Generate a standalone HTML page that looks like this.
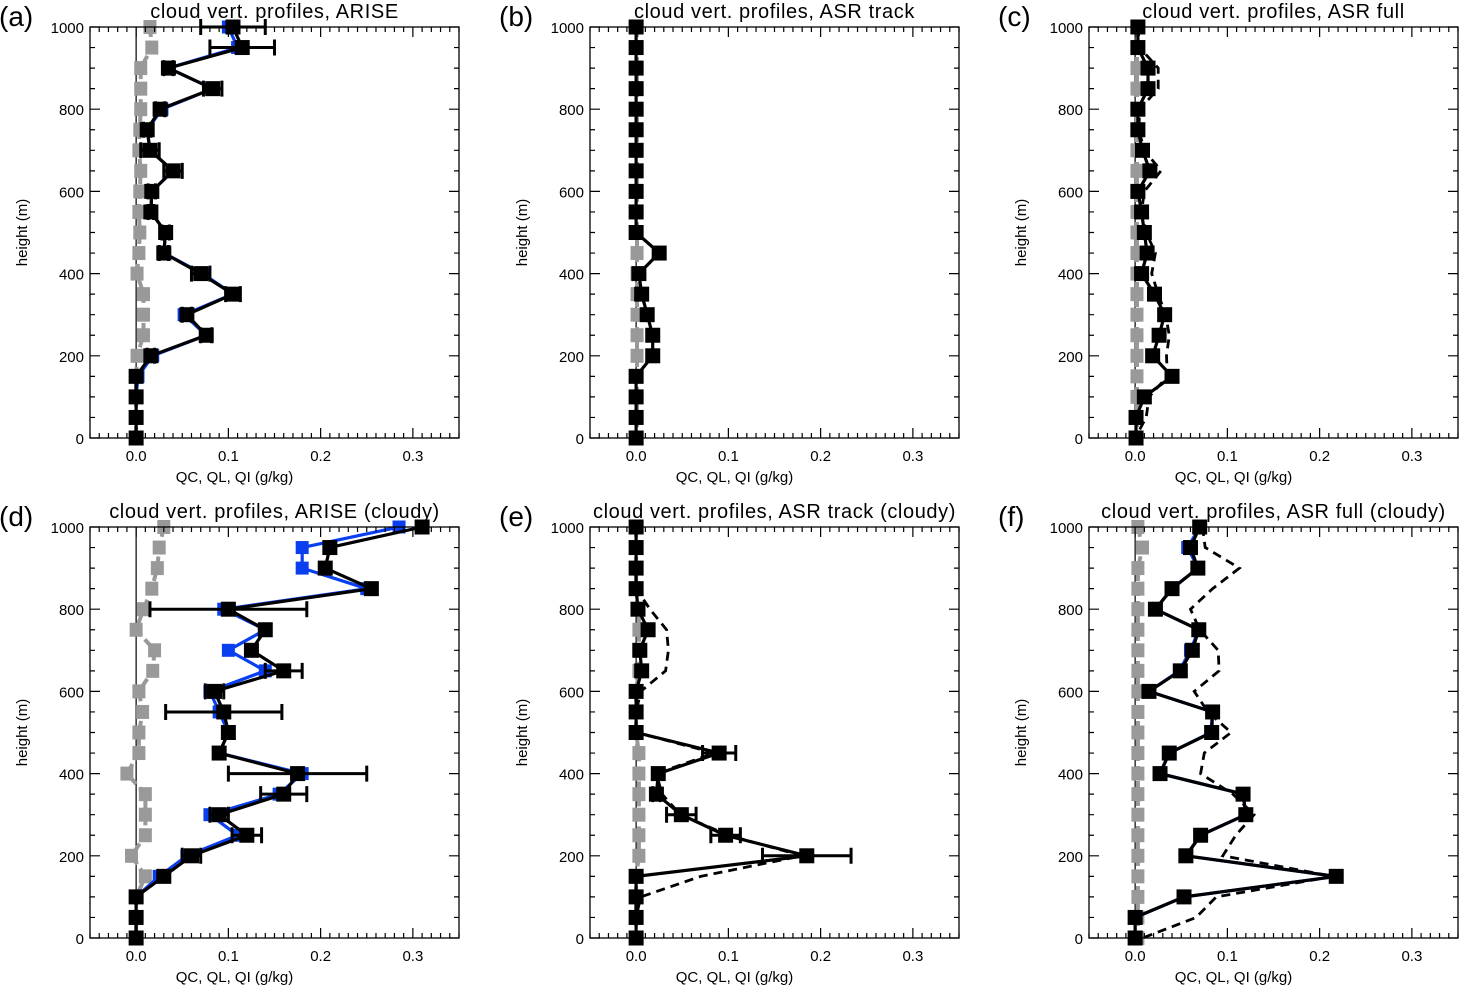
<!DOCTYPE html>
<html><head><meta charset="utf-8">
<style>
body{margin:0;background:#fff;}
svg{display:block;font-family:"Liberation Sans",sans-serif;}
</style></head>
<body>
<svg id="fig" width="1468" height="986" viewBox="0 0 1468 986"></svg>
<script>
const heights=[1000,950,900,850,800,750,700,650,600,550,500,450,400,350,300,250,200,150,100,50,0];
const xTicks=[0.0,0.1,0.2,0.3];
const yTicks=[0,200,400,600,800,1000];
const titles=["cloud vert. profiles, ARISE","cloud vert. profiles, ASR track","cloud vert. profiles, ASR full","cloud vert. profiles, ARISE (cloudy)","cloud vert. profiles, ASR track (cloudy)","cloud vert. profiles, ASR full (cloudy)"];
const labels=["(a)","(b)","(c)","(d)","(e)","(f)"];
// panel a
const aBlack=[0.105,0.115,0.035,0.083,0.026,0.012,0.015,0.04,0.017,0.016,0.032,0.03,0.07,0.105,0.055,0.076,0.016,0,0,0,0];
const aBlue=[0.1,0.11,0.035,0.083,0.028,0.012,0.015,0.04,0.017,0.016,0.032,0.03,0.072,0.105,0.052,0.076,0.018,0.002,0,0,0];
const aGray=[0.015,0.017,0.005,0.005,0.005,0.004,0.003,0.005,0.004,0.003,0.004,0.003,0.001,0.008,0.008,0.008,0.001,0,0,0,0];
const aErr=[0.035,0.035,0.005,0.01,0.005,0.004,0.01,0.01,0.004,0.003,0.004,0.005,0.01,0.008,0.005,0.006,0.004,0,0,0,0];
// panel b
const bBlack=[0,0,0,0,0,0,0,0,0,0,0,0.025,0.003,0.006,0.012,0.018,0.018,0,0,0,0];
const bGray=[0.001,0.001,0.001,0.001,0.001,0.001,0.001,0.001,0.001,0.001,0.001,0.001,0.001,0.001,0.001,0.001,0.001,0.001,0.001,0.001,0.001];
// panel c
const cBlack=[0.003,0.003,0.014,0.014,0.003,0.003,0.008,0.016,0.003,0.007,0.01,0.013,0.007,0.021,0.032,0.026,0.019,0.04,0.01,0.001,0.001];
const cDash=[0.003,0.005,0.025,0.025,0.005,0.004,0.01,0.028,0.01,0.007,0.012,0.022,0.018,0.025,0.033,0.037,0.034,0.035,0.015,0.012,0.0];
const cGray=[0.002,0.002,0.002,0.002,0.002,0.002,0.002,0.002,0.002,0.002,0.002,0.002,0.002,0.002,0.002,0.002,0.002,0.002,0.002,0.002,0.002];
// panel d
const dBlack=[0.31,0.21,0.205,0.255,0.1,0.14,0.125,0.16,0.085,0.095,0.1,0.09,0.175,0.16,0.09,0.12,0.06,0.03,0,0,0];
const dBlue=[0.285,0.18,0.18,0.25,0.095,0.14,0.1,0.14,0.08,0.09,0.1,0.09,0.18,0.155,0.08,0.11,0.055,0.025,0,0,0];
const dGray=[0.03,0.025,0.023,0.017,0.008,0.0,0.02,0.018,0.003,0.007,0.003,0.003,-0.01,0.01,0.01,0.01,-0.005,0.01,0,0,0];
const dErr=[0,0,0,0,0.085,0,0,0.02,0.01,0.063,0,0,0.075,0.025,0.01,0.016,0.01,0,0,0,0];
// panel e
const eBlack=[0,0,0,0,0.002,0.013,0.004,0.006,0,0,0,0.09,0.024,0.022,0.049,0.097,0.185,0,0,0,0];
const eDash=[0,0,0,0,0.015,0.033,0.035,0.032,0.005,0,0,0.085,0.022,0.028,0.048,0.1,0.18,0.07,0.005,0,0];
const eGray=[0,0,0,0,0.003,0.003,0.003,0.003,0,0,0,0.003,0.003,0.003,0.003,0.003,0.003,0,0,0,0];
const eErr=[0,0,0,0,0,0,0,0,0,0,0,0.018,0,0.004,0.016,0.016,0.048,0,0,0,0];
// panel f
const fBlack=[0.07,0.06,0.068,0.04,0.022,0.069,0.062,0.049,0.015,0.084,0.083,0.037,0.027,0.117,0.12,0.071,0.055,0.218,0.053,0,0];
const fBlue=[0.07,0.057,0.068,0.04,0.022,0.069,0.06,0.048,0.015,0.084,0.082,0.037,0.027,0.117,0.12,0.071,0.055,0.218,0.053,0,0];
const fDash=[0.073,0.076,0.113,0.084,0.06,0.07,0.09,0.091,0.064,0.079,0.104,0.075,0.071,0.106,0.129,0.109,0.095,0.215,0.088,0.066,0.008];
const fGray=[0.003,0.008,0.003,0.003,0.003,0.003,0.003,0.003,0.003,0.003,0.003,0.003,0.003,0.003,0.003,0.003,0.003,0.003,0.003,0.003,0.003];

const panels=[
 {x0:90,y0:27,black:aBlack,blue:aBlue,gray:aGray,err:aErr},
 {x0:590,y0:27,black:bBlack,gray:bGray},
 {x0:1089,y0:27,black:cBlack,dash:cDash,gray:cGray},
 {x0:90,y0:527,black:dBlack,blue:dBlue,gray:dGray,err:dErr},
 {x0:590,y0:527,black:eBlack,dash:eDash,gray:eGray,err:eErr},
 {x0:1089,y0:527,black:fBlack,blue:fBlue,dash:fDash,gray:fGray}
];
const W=369,H=411,XMIN=-0.05,XMAX=0.35;
const NS="http://www.w3.org/2000/svg";
const svg=document.getElementById('fig');
function mk(tag,attrs,parent){const e=document.createElementNS(NS,tag);for(const k in attrs)e.setAttribute(k,attrs[k]);(parent||svg).appendChild(e);return e;}

panels.forEach((p,i)=>{
 const xs=v=>p.x0+(v-XMIN)/(XMAX-XMIN)*W;
 const ys=h=>p.y0+H-h/1000*H;
 const g=mk('g',{});
 
 
 const t=mk('text',{x:p.x0+W/2,y:p.y0-9,'text-anchor':'middle','font-size':20,'letter-spacing':0.6},g);
 t.textContent=titles[i];
 
 
 const pl=mk('text',{x:p.x0-91,y:p.y0-1,'font-size':28},g);
 pl.textContent=labels[i];
 
 
 const cp=mk('clipPath',{id:'clip'+i},g);
 mk('rect',{x:p.x0,y:p.y0-8,width:W,height:H+16},cp);
 const plot=mk('g',{'clip-path':'url(#clip'+i+')'},g);
 const zl=mk('line',{x1:xs(0),x2:xs(0),y1:p.y0,y2:p.y0+H,stroke:'#000','stroke-width':1.2},plot);
 
 
 const pts=arr=>arr.map((v,j)=>xs(v).toFixed(1)+','+ys(heights[j]).toFixed(1)).join(' ');
 const gl=mk('polyline',{points:pts(p.gray),fill:'none',stroke:'#999','stroke-width':4,'stroke-dasharray':'10,5'},plot);
 
 
 p.gray.forEach((v,j)=>{
  const r=mk('rect',{x:xs(v)-6.5,y:ys(heights[j])-7,width:13,height:14,fill:'#999'},plot);
  
  
 });
 if(p.dash){
  const dl=mk('polyline',{points:pts(p.dash),fill:'none',stroke:'#000','stroke-width':2.8,'stroke-dasharray':'9,6'},plot);
  
  
 }
 if(p.blue){
  const bl=mk('polyline',{points:pts(p.blue),fill:'none',stroke:'#0a3ff0','stroke-width':3.2},plot);
  
  
  p.blue.forEach((v,j)=>{
   const r=mk('rect',{x:xs(v)-6.5,y:ys(heights[j])-6.5,width:13,height:13,fill:'#0a3ff0'},plot);
   
   
  });
 }
 const kl=mk('polyline',{points:pts(p.black),fill:'none',stroke:'#000','stroke-width':3.2},plot);
 
 
 if(p.err){
  p.err.forEach((e,j)=>{
   if(e<=0)return;
   const y=ys(heights[j]),v=p.black[j];
   const eb=mk('path',{d:`M${xs(v-e)},${y}H${xs(v+e)}M${xs(v-e)},${y-8}V${y+8}M${xs(v+e)},${y-8}V${y+8}`,stroke:'#000','stroke-width':3,fill:'none'},plot);
   
   
  });
 }
 p.black.forEach((v,j)=>{
  const r=mk('rect',{x:xs(v)-7.5,y:ys(heights[j])-7.5,width:15,height:15,fill:'#000'},plot);
  
  
 });
 const fr=mk('rect',{x:p.x0,y:p.y0,width:W,height:H,fill:'none',stroke:'#000','stroke-width':1.3},g);
 
 
 let d='';
 for(let k=-5;k<=35;k++){const x=xs(k/100);const len=(k%10===0)?10:5;d+=`M${x},${p.y0+H}v${-len}M${x},${p.y0}v${len}`;}
 for(let h=0;h<=1000;h+=50){const y=ys(h);const len=(h%200===0)?10:5;d+=`M${p.x0},${y}h${len}M${p.x0+W},${y}h${-len}`;}
 const tk=mk('path',{d:d,stroke:'#000','stroke-width':1.2,fill:'none'},g);
 
 
 xTicks.forEach(v=>{
  const tl=mk('text',{x:xs(v),y:p.y0+H+23,'text-anchor':'middle','font-size':15},g);
  tl.textContent=v.toFixed(1);
  
  
 });
 yTicks.forEach(h=>{
  const tl=mk('text',{x:p.x0-6,y:ys(h)+6,'text-anchor':'end','font-size':15},g);
  tl.textContent=h;
  
  
 });
 const xt=mk('text',{x:p.x0+W/2-40,y:p.y0+H+44,'text-anchor':'middle','font-size':15},g);
 xt.textContent='QC, QL, QI (g/kg)';
 
 
 const yt=mk('text',{x:0,y:0,'text-anchor':'middle','font-size':15,transform:`translate(${p.x0-63},${p.y0+H/2}) rotate(-90)`},g);
 yt.textContent='height (m)';
 
 
});
</script>
</body></html>
